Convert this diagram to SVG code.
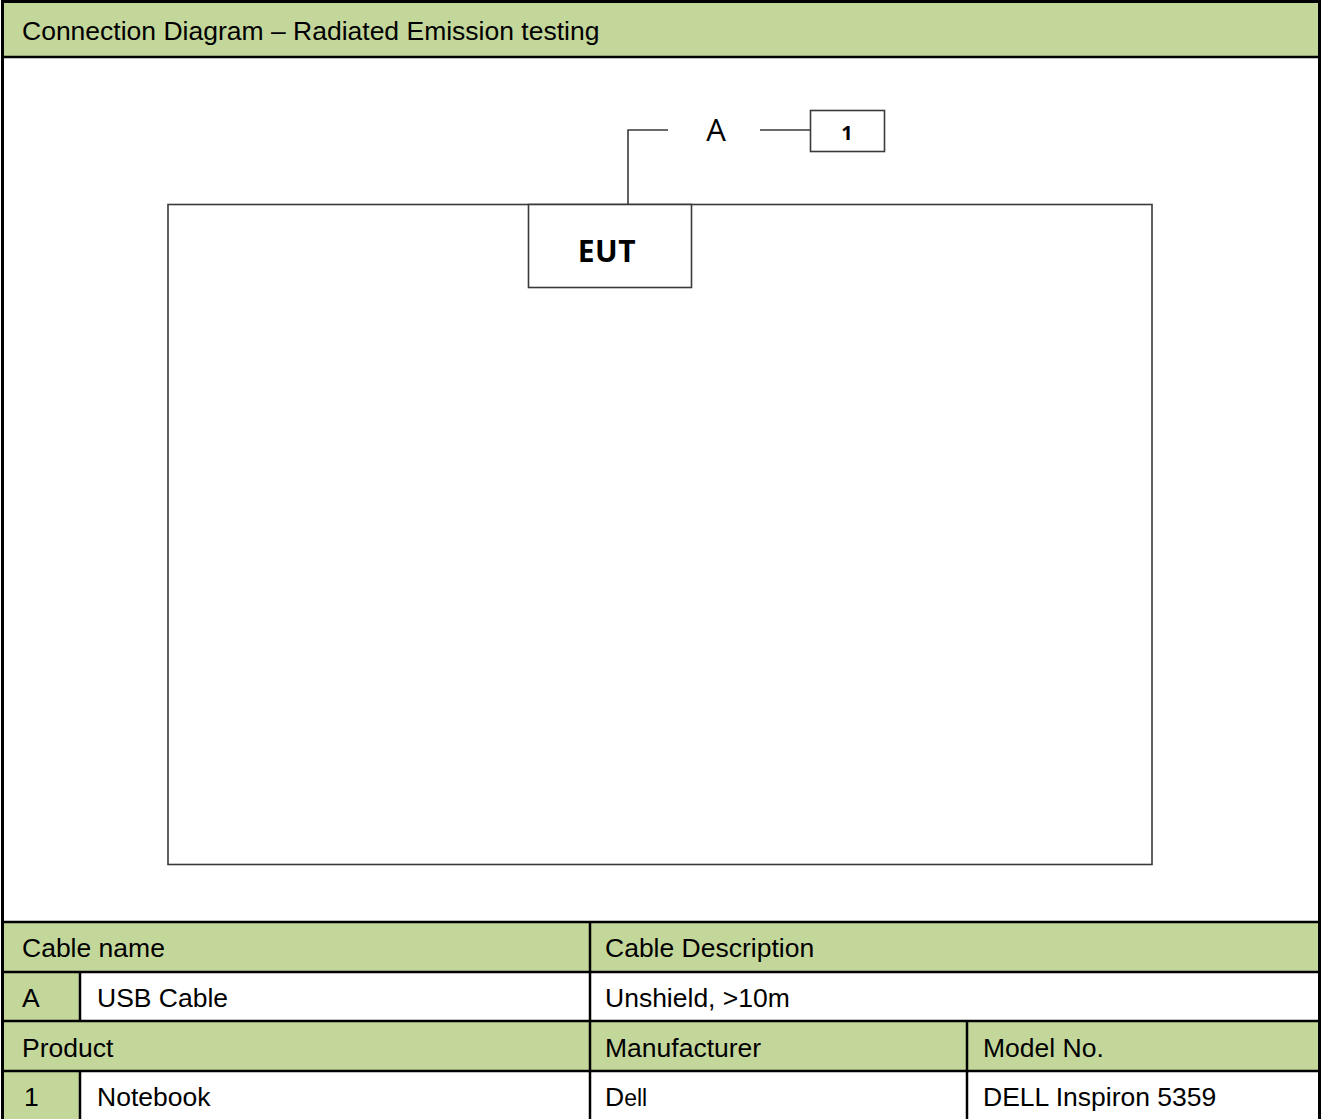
<svg xmlns="http://www.w3.org/2000/svg" width="1322" height="1119" viewBox="0 0 1322 1119">
<style>
.t{font-family:"Liberation Sans",Arial,sans-serif;font-size:26.5px;fill:#000}
.g{fill:#C4D79B}
.tl{stroke:#000;stroke-width:2.5;fill:none}
.dl{stroke:#3a3a3a;stroke-width:1.6;fill:none}
.box{stroke:#3a3a3a;stroke-width:1.6;fill:#fff}
.seg{font-family:"Open Sans","DejaVu Sans",sans-serif;fill:#000}
</style>
<rect x="0" y="0" width="1322" height="1119" fill="#fff"/>
<g id="header">
<rect class="g" x="2" y="2" width="1318" height="55"/>
<text class="t" x="22" y="40">Connection Diagram – Radiated Emission testing</text>
</g>
<g id="connectors">
<polyline class="dl" points="628,204 628,130 668,130"/>
<line class="dl" x1="760" y1="130" x2="810" y2="130"/>
<text class="seg" x="716" y="141" font-size="31" text-anchor="middle">A</text>
</g>
<g id="table-area">
<rect class="dl" x="168" y="204.5" width="984" height="660"/>
</g>
<g id="eut">
<rect class="box" x="528.5" y="204.5" width="163" height="83"/>
<text class="seg" x="607" y="262" font-size="30" font-weight="bold" text-anchor="middle" letter-spacing="0.5">EUT</text>
</g>
<g id="node1">
<rect class="box" x="810.5" y="110.5" width="74" height="41"/>
<text class="seg" x="847" y="140" font-size="20" font-weight="bold" text-anchor="middle">1</text>
</g>
<g id="table">
<rect class="g" x="2" y="922" width="1318" height="50"/>
<rect class="g" x="2" y="972" width="78" height="49"/>
<rect class="g" x="2" y="1021" width="1318" height="50"/>
<rect class="g" x="2" y="1071" width="78" height="48"/>
<line class="tl" x1="2" y1="922" x2="1320" y2="922"/>
<line class="tl" x1="2" y1="972" x2="1320" y2="972"/>
<line class="tl" x1="2" y1="1021" x2="1320" y2="1021"/>
<line class="tl" x1="2" y1="1071" x2="1320" y2="1071"/>
<line class="tl" x1="80" y1="972" x2="80" y2="1021"/>
<line class="tl" x1="80" y1="1071" x2="80" y2="1119"/>
<line class="tl" x1="590" y1="922" x2="590" y2="1119"/>
<line class="tl" x1="967" y1="1021" x2="967" y2="1119"/>
<text class="t" x="22" y="957">Cable name</text>
<text class="t" x="605" y="957">Cable Description</text>
<text class="t" x="22" y="1007">A</text>
<text class="t" x="97" y="1007">USB Cable</text>
<text class="t" x="605" y="1007">Unshield, &gt;10m</text>
<text class="t" x="22" y="1057">Product</text>
<text class="t" x="605" y="1057">Manufacturer</text>
<text class="t" x="983" y="1057">Model No.</text>
<text class="t" x="24" y="1106">1</text>
<text class="t" x="97" y="1106">Notebook</text>
<text class="t" x="605" y="1106">D<tspan font-size="23">ell</tspan></text>
<text class="t" x="983" y="1106">DELL Inspiron 5359</text>
</g>
<g id="frame">
<line class="tl" x1="2" y1="57" x2="1320" y2="57"/>
<polyline stroke="#000" stroke-width="3" fill="none" points="2.5,1119 2.5,1.5 1319.5,1.5 1319.5,1119"/>
</g>
</svg>
